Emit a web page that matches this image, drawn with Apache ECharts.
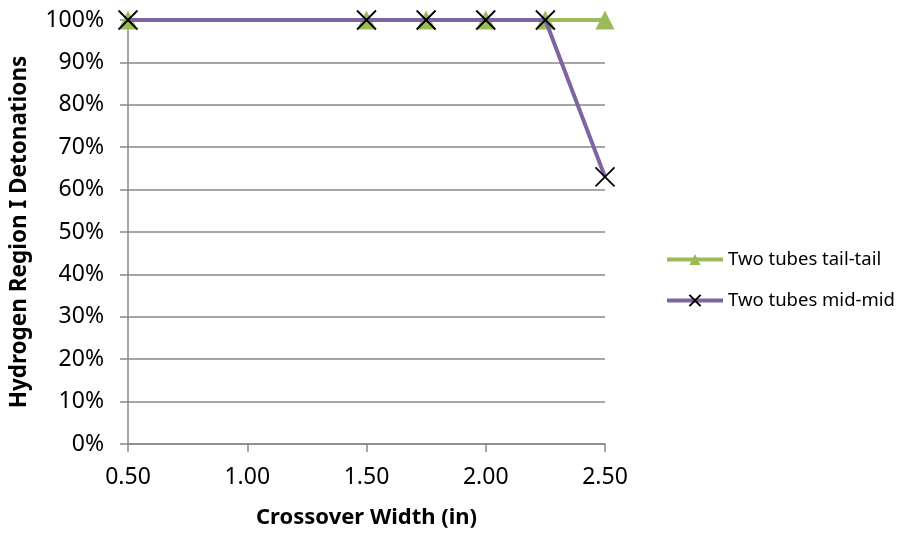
<!DOCTYPE html>
<html><head><meta charset="utf-8">
<script src="https://cdn.jsdelivr.net/npm/echarts@6/dist/echarts.min.js"></script>
<style>html,body{margin:0;padding:0;background:#fff}#c{width:907px;height:535px}</style>
</head><body><div id="c"></div>
<script>
var widths = [0.5, 1.5, 1.75, 2.0, 2.25, 2.5];
var tailTail = [100, 100, 100, 100, 100, 100];
var midMid = [100, 100, 100, 100, 100, 63];
var seriesNames = ['Two tubes tail-tail', 'Two tubes mid-mid'];
var xTitle = 'Crossover Width (in)';
var yTitle = 'Hydrogen Region I Detonations';

function pairs(xs, ys){ return xs.map(function(x,i){return [x, ys[i]];}); }
var font = '"Noto Sans", "Liberation Sans", sans-serif';
var chart = echarts.init(document.getElementById('c'), null, {renderer:'canvas'});
chart.setOption({
  animation:false,
  textStyle:{fontFamily:font},
  grid:{left:127, right:302, top:20, bottom:91, containLabel:false},
  xAxis:{type:'value', min:0.5, max:2.5, interval:0.5,
    name:xTitle, nameLocation:'middle', nameGap:63, nameMoveOverlap:false,
    nameTextStyle:{fontSize:22, fontWeight:'bold', color:'#000', fontFamily:font},
    axisLine:{lineStyle:{color:'#888', width:1.5}},
    axisTick:{show:true, inside:false, length:8, lineStyle:{color:'#888', width:1.5}},
    axisLabel:{fontSize:23, color:'#000', margin:22, formatter:function(v){return v.toFixed(2);}},
    splitLine:{show:false}},
  yAxis:{type:'value', min:0, max:100, interval:10,
    name:yTitle, nameLocation:'middle', nameGap:97, nameMoveOverlap:false,
    nameTextStyle:{fontSize:22.5, fontWeight:'bold', color:'#000', fontFamily:font},
    axisLine:{show:true, lineStyle:{color:'#888', width:1.5}},
    axisTick:{show:true, inside:false, length:8, lineStyle:{color:'#888', width:1.5}},
    axisLabel:{fontSize:23, color:'#000', margin:24, formatter:'{value}%'},
    splitLine:{show:true, lineStyle:{color:'#888', width:1.5}}},
  legend:{orient:'vertical', left:660, top:245, itemGap:22, itemWidth:56, itemHeight:14,
    lineStyle:{width:4},
    textStyle:{fontSize:18.5, color:'#000', fontFamily:font},
    data:seriesNames},
  series:[
    {name:seriesNames[0], type:'line', data:pairs(widths, tailTail),
     lineStyle:{color:'#9BBB59', width:4}, itemStyle:{color:'#9BBB59'},
     symbol:'triangle', symbolSize:[19,19], showAllSymbol:true, z:2},
    {name:seriesNames[1], type:'line', data:pairs(widths, midMid),
     lineStyle:{color:'#8064A2', width:4}, itemStyle:{color:'none', borderColor:'#000', borderWidth:1.8},
     symbol:'path://M0,0L10,10M10,0L0,10', symbolSize:19, showAllSymbol:true, z:3}
  ]
});
</script></body></html>
